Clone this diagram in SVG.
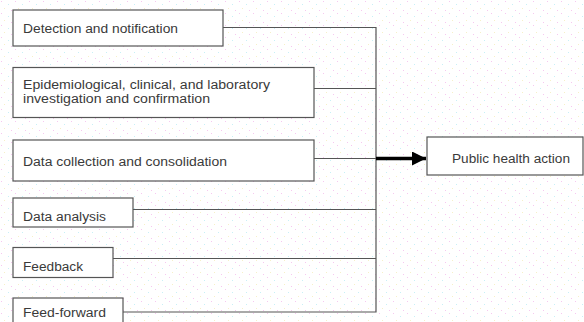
<svg xmlns="http://www.w3.org/2000/svg" width="584" height="322" viewBox="0 0 584 322">
<defs>
<pattern id="dots" width="14" height="12" patternUnits="userSpaceOnUse">
<rect x="1" y="1" width="1" height="1" fill="#f6c8f0"/>
<rect x="8" y="4" width="1" height="1" fill="#c8f0f6"/>
<rect x="4" y="8" width="1" height="1" fill="#f6f0c8"/>
<rect x="11" y="10" width="1" height="1" fill="#f6c8f0"/>
</pattern>
<marker id="arr" viewBox="0 0 10 10" refX="10" refY="5" markerWidth="4.5" markerHeight="4" markerUnits="strokeWidth" orient="auto">
<path d="M0,0 L10,5 L0,10 z" fill="#000"/>
</marker>
<style>
.box{fill:#fff;stroke:#555;stroke-width:1.2}
.t{font-family:"Liberation Sans",Arial,sans-serif;font-size:12px;fill:#3a3a3a}
.c{fill:none;stroke:#555;stroke-width:1.2}
</style>
</defs>
<rect width="584" height="322" fill="#fff"/>
<rect width="584" height="322" fill="url(#dots)"/>
<g id="connectors">
<path class="c" d="M223,27.5 H376 V312 H123"/>
<path class="c" d="M314,88.5 H376"/>
<path class="c" d="M314,158.5 H376"/>
<path class="c" d="M133,209.5 H376"/>
<path class="c" d="M113,258.5 H376"/>
<line x1="376" y1="158.5" x2="426" y2="158.5" stroke="#000" stroke-width="3.5" marker-end="url(#arr)"/>
</g>
<g id="n1"><rect class="box" x="13" y="10" width="210" height="36"/><text class="t" x="23" y="33" textLength="155" lengthAdjust="spacingAndGlyphs">Detection and notification</text></g>
<g id="n2"><rect class="box" x="13" y="67.5" width="301" height="50"/><text class="t" x="23" y="89" textLength="247" lengthAdjust="spacingAndGlyphs">Epidemiological, clinical, and laboratory</text><text class="t" x="23" y="103" textLength="187" lengthAdjust="spacingAndGlyphs">investigation and confirmation</text></g>
<g id="n3"><rect class="box" x="13" y="140" width="301" height="41"/><text class="t" x="23" y="166" textLength="204" lengthAdjust="spacingAndGlyphs">Data collection and consolidation</text></g>
<g id="n4"><rect class="box" x="13" y="198" width="120" height="29"/><text class="t" x="23" y="221" textLength="83" lengthAdjust="spacingAndGlyphs">Data analysis</text></g>
<g id="n5"><rect class="box" x="13" y="247.5" width="100" height="30"/><text class="t" x="23" y="271" textLength="60" lengthAdjust="spacingAndGlyphs">Feedback</text></g>
<g id="n6"><rect class="box" x="13" y="298" width="110" height="34"/><text class="t" x="23" y="317" textLength="83" lengthAdjust="spacingAndGlyphs">Feed-forward</text></g>
<g id="n7"><rect class="box" x="427" y="137" width="156" height="38"/><text class="t" x="452" y="163" textLength="118" lengthAdjust="spacingAndGlyphs">Public health action</text></g>
</svg>
